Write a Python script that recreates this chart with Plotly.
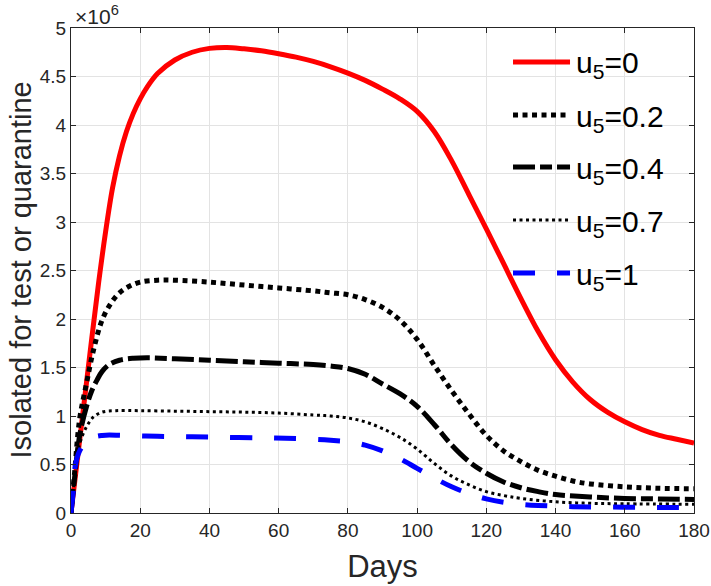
import plotly.graph_objects as go

# ---- data (values in units of 10^6) ----
days_u0 = [0, 2, 4, 6, 8, 10, 12, 14, 16, 18, 20, 22, 25, 30, 35, 40, 45, 50, 55, 60, 65, 70,
           75, 80, 85, 90, 95, 100, 105, 110, 115, 120, 125, 130, 135, 140, 145, 150, 155,
           160, 165, 170, 175, 180]
val_u0 = [0, 0.6, 1.2, 1.8, 2.38, 2.9, 3.35, 3.68, 3.93, 4.12, 4.27, 4.39, 4.53, 4.67, 4.75,
          4.79, 4.80, 4.785, 4.765, 4.735, 4.70, 4.655, 4.60, 4.535, 4.46, 4.37, 4.27, 4.14,
          3.93, 3.63, 3.28, 2.93, 2.57, 2.21, 1.87, 1.58, 1.35, 1.17, 1.04, 0.94, 0.86, 0.80,
          0.76, 0.72]

days_u02 = [0, 1, 2.5, 4.5, 6.5, 9, 11.5, 14, 17, 20, 25, 30, 40, 50, 60, 70, 75, 80, 85, 90,
            95, 100, 105, 110, 115, 120, 125, 130, 135, 140, 145, 150, 160, 170, 180]
val_u02 = [0, 0.4, 0.97, 1.34, 1.68, 1.99, 2.16, 2.27, 2.34, 2.38, 2.40, 2.40, 2.38, 2.35,
           2.32, 2.29, 2.27, 2.25, 2.20, 2.12, 1.99, 1.79, 1.52, 1.26, 1.02, 0.80, 0.64, 0.53,
           0.44, 0.38, 0.33, 0.30, 0.27, 0.255, 0.25]

days_u04 = [0, 1, 2.5, 4.5, 6, 7.5, 9, 11, 14, 18, 22, 30, 40, 50, 60, 70, 75, 80, 85, 90,
            95, 100, 105, 110, 115, 120, 125, 130, 135, 140, 150, 160, 170, 180]
val_u04 = [0, 0.35, 0.8, 1.10, 1.26, 1.37, 1.46, 1.53, 1.575, 1.595, 1.60, 1.59, 1.575, 1.56,
           1.545, 1.53, 1.515, 1.49, 1.43, 1.33, 1.23, 1.10, 0.91, 0.70, 0.53, 0.41, 0.32,
           0.26, 0.22, 0.19, 0.165, 0.15, 0.145, 0.14]

days_u07 = [0, 1, 2.5, 4.5, 6.5, 9, 13, 20, 30, 40, 50, 60, 70, 75, 80, 85, 90, 95, 100, 105,
            110, 115, 120, 125, 130, 140, 150, 160, 180]
val_u07 = [0, 0.35, 0.71, 0.89, 0.99, 1.04, 1.055, 1.055, 1.05, 1.045, 1.04, 1.03, 1.01, 1.00,
           0.98, 0.94, 0.87, 0.78, 0.66, 0.51, 0.38, 0.29, 0.22, 0.18, 0.15, 0.115, 0.10,
           0.095, 0.09]

days_u1 = [0, 0.7, 1.2, 2.5, 5, 9, 15, 25, 35, 45, 55, 62, 70, 75, 80, 85, 90, 95, 100, 105,
           110, 115, 120, 125, 130, 135, 145, 160, 180]
val_u1 = [0, 0.24, 0.48, 0.64, 0.76, 0.80, 0.80, 0.79, 0.785, 0.78, 0.775, 0.77, 0.76, 0.75,
          0.735, 0.70, 0.64, 0.56, 0.46, 0.36, 0.27, 0.20, 0.145, 0.11, 0.09, 0.078, 0.065,
          0.06, 0.055]

labels = ["u<sub>5</sub>=0", "u<sub>5</sub>=0.2", "u<sub>5</sub>=0.4",
          "u<sub>5</sub>=0.7", "u<sub>5</sub>=1"]

x_ticks = [0, 20, 40, 60, 80, 100, 120, 140, 160, 180]
y_ticks = [0, 0.5, 1, 1.5, 2, 2.5, 3, 3.5, 4, 4.5, 5]
y_ticktext = ["0", "0.5", "1", "1.5", "2", "2.5", "3", "3.5", "4", "4.5", "5"]

# ---- styles ----
styles = [
    dict(color="#ff0000", width=5, dash="solid"),
    dict(color="#000000", width=5, dash="5px,4.5px"),
    dict(color="#000000", width=5, dash="22px,5px,12px,5px"),
    dict(color="#000000", width=3, dash="3px,3.5px"),
    dict(color="#0000ff", width=5, dash="22px,22px"),
]

series = [(days_u0, val_u0), (days_u02, val_u02), (days_u04, val_u04),
          (days_u07, val_u07), (days_u1, val_u1)]

fig = go.Figure()
for (d, v), st, lab in zip(series, styles, labels):
    fig.add_trace(go.Scatter(x=d, y=v, mode="lines", name=lab,
                             line=dict(color=st["color"], width=st["width"], dash=st["dash"],
                                       shape="spline", smoothing=1.0),
                             showlegend=False))

# ---- manual legend (MATLAB style, no box) ----
leg_rows = [0.930, 0.8206, 0.7134, 0.604, 0.4948]
for yy, st, lab in zip(leg_rows, styles, labels):
    fig.add_shape(type="line", xref="paper", yref="paper", x0=0.7095, x1=0.801, y0=yy, y1=yy,
                  line=dict(color=st["color"], width=st["width"], dash=st["dash"]))
    fig.add_annotation(xref="paper", yref="paper", x=0.808, y=yy, text=lab, showarrow=False,
                       xanchor="left", yanchor="middle", yshift=-3,
                       font=dict(family="Liberation Sans, Arial", size=30, color="#000000"))

fig.add_annotation(xref="paper", yref="paper", x=0.004, y=1, text="×10<sup>6</sup>",
                   showarrow=False, xanchor="left", yanchor="bottom", yshift=-2,
                   font=dict(family="Liberation Sans, Arial", size=21, color="#262626"))

# y-axis title as rotated annotation for exact placement
fig.add_annotation(xref="paper", yref="paper", x=0, y=0.5, xshift=-51, borderpad=0,
                   text="Isolated for test or quarantine", textangle=-90, showarrow=False,
                   xanchor="center", yanchor="middle",
                   font=dict(family="Liberation Sans, Arial", size=29, color="#262626"))

axis_common = dict(showline=True, linecolor="#262626", linewidth=1, mirror="ticks",
                   ticks="inside", ticklen=5, tickcolor="#262626", automargin=False,
                   showgrid=True, gridcolor="#e3e3e3", gridwidth=1, zeroline=False,
                   tickfont=dict(family="Liberation Sans, Arial", size=19, color="#262626"))

fig.update_xaxes(range=[0, 180], tickvals=x_ticks, **axis_common,
                 title=dict(text="Days", standoff=15,
                            font=dict(family="Liberation Sans, Arial", size=31, color="#262626")))
fig.update_yaxes(range=[0, 5], tickvals=y_ticks, ticktext=y_ticktext, **axis_common)

fig.update_layout(width=711, height=586, margin=dict(l=71, r=17, t=28, b=73),
                  plot_bgcolor="white", paper_bgcolor="white")

fig.write_html("out.html", config={"displayModeBar": False},
               post_script="document.body.style.margin='0';"
                           "document.body.style.overflow='hidden';")
